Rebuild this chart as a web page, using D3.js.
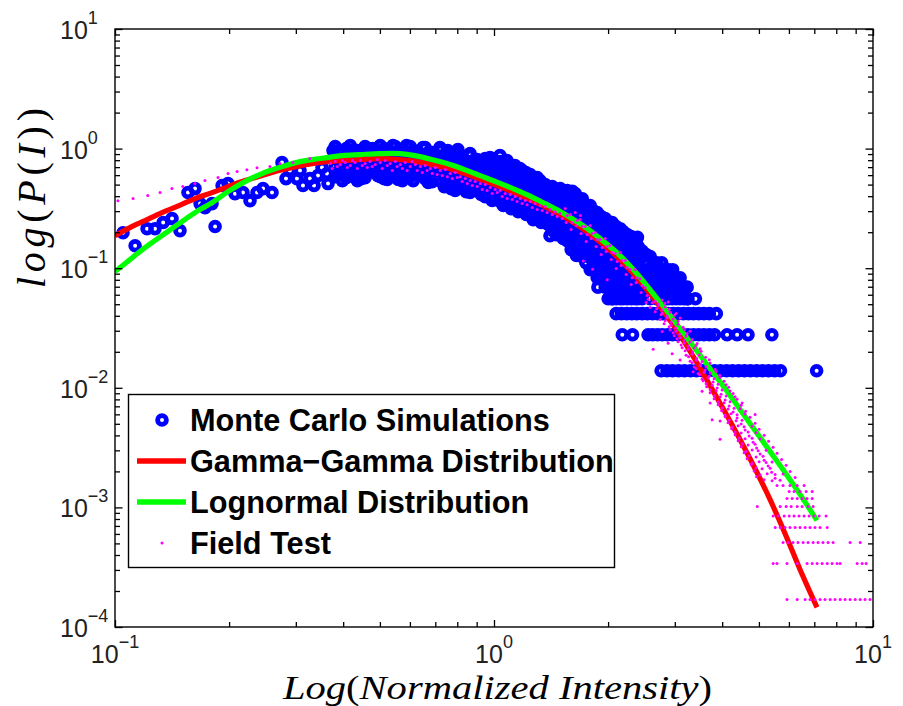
<!DOCTYPE html>
<html><head><meta charset="utf-8">
<script src="https://cdn.jsdelivr.net/npm/d3@7"></script>
<style>body{margin:0;background:#fff;}svg{display:block;}</style>
</head><body>
<svg id="chart" width="903" height="706"></svg>
<script>
// ---------- DATA ----------
const curveI = [0.1,0.1095,0.120,0.133,0.1475,0.1626,0.1803,0.1987,0.2203,0.2443,0.2709,0.3003,0.3310,0.3626,0.3971,0.4430,0.5004,0.5649,0.6189,0.6779,0.7516,0.8284,0.9186,1.018,1.122,1.245,1.363,1.494,1.636,1.792,1.963,2.150,2.355,2.579,2.826,3.096,3.391,3.715,4.069,4.458,4.883,5.348,5.859,6.418,7.115];
const gammaGammaP = [0.1873,0.2185,0.2500,0.2917,0.3338,0.3819,0.4286,0.4812,0.5401,0.5946,0.6548,0.7071,0.7492,0.7786,0.7937,0.8091,0.8249,0.8091,0.7862,0.7421,0.6871,0.6241,0.5561,0.4906,0.4330,0.3748,0.3275,0.2808,0.2362,0.1930,0.1532,0.1181,0.0868,0.0614,0.0418,0.0276,0.01725,0.01045,0.00628,0.003698,0.002115,0.001166,0.000606,0.000303,0.000146];
const lognormalP = [0.0937,0.1180,0.1487,0.1873,0.2359,0.2917,0.3535,0.4369,0.5298,0.6179,0.6937,0.7637,0.8091,0.8409,0.8739,0.8909,0.9082,0.9082,0.8739,0.8170,0.7493,0.6740,0.5948,0.5249,0.4631,0.4009,0.3470,0.2975,0.2502,0.2064,0.1638,0.1276,0.0938,0.0663,0.0460,0.0313,0.02131,0.01450,0.00987,0.00659,0.00440,0.00294,0.00196,0.001284,0.000778];

// Monte Carlo histogram points [normalized intensity, probability]
const monteCarlo = [
[0.105,0.198],[0.113,0.154],[0.1215,0.214],[0.1275,0.214],[0.134,0.241],[0.1414,0.260],[0.1484,0.206],[0.1558,0.429],[0.1626,0.463],[0.1677,0.347],[0.1728,0.321],[0.1803,0.347],[0.1837,0.223],[0.1917,0.491],[0.1987,0.510],[0.2073,0.420],[0.2176,0.429],[0.2271,0.367],[0.2370,0.429],[0.2458,0.463],[0.2596,0.429],[0.2758,0.764],[0.2894,0.655],[0.3020,0.561],[0.3133,0.491],[0.3269,0.561],[0.3432,0.595],[0.3625,0.618],[0.3760,0.962],[0.3924,0.794],[0.4094,0.694],[0.4246,0.962],[0.4511,0.630],[0.4795,1.0],[0.5066,0.794],[0.5415,1.06],[0.5753,0.908],[0.6076,0.721],[0.6497,1.02],[0.6903,0.618],[0.7202,1.02],[0.7334,0.655],
[0.2826,0.561],[0.3077,0.655],[0.3351,0.491],[0.3517,0.694],[0.3648,0.510],
[0.385,0.630],[0.404,0.595],[0.432,0.749],[0.459,0.841],[0.470,0.655],[0.494,0.595],[0.519,0.926],[0.530,0.681],[0.556,0.630],[0.588,1.06],[0.621,0.908],[0.637,0.630],[0.670,0.825],[0.706,0.825],[0.755,0.962],[0.774,0.764],[0.803,0.981],[0.822,0.681],
[0.789,0.510],[0.8385,0.472],[0.8644,0.908],[0.891,0.721],[0.891,0.491],[0.9354,0.463],[0.9354,0.749],[0.9759,0.841],[0.9759,0.595],[1.006,0.382],[1.037,0.874],[1.037,0.655],[1.050,0.764],[1.082,0.794],[1.082,0.540],[1.102,0.367],[1.136,0.721],[1.136,0.491],[1.171,0.347],[1.171,0.681],[1.214,0.630],[1.214,0.446],[1.260,0.561],[1.260,0.334],[1.322,0.265],[1.322,0.540],[1.363,0.491],[1.363,0.367],[1.405,0.187],[1.405,0.463],[1.431,0.206],[1.475,0.405],[1.475,0.275],
[0.381,1.039],[0.381,0.857],[0.381,0.707],[0.381,0.583],[0.398,0.944],[0.398,0.779],[0.398,0.642],[0.398,0.540],[0.4175,1.06],[0.4175,0.874],[0.4175,0.721],[0.4175,0.595],[0.436,0.962],[0.436,0.794],[0.436,0.655],[0.436,0.540],[0.457,1.039],[0.457,0.857],[0.457,0.707],[0.457,0.572],[0.477,0.944],[0.477,0.779],[0.477,0.642],[0.501,1.06],[0.501,0.874],[0.501,0.721],[0.501,0.583],[0.523,0.962],[0.523,0.794],[0.523,0.655],[0.523,0.551],[0.549,1.039],[0.549,0.857],[0.549,0.707],[0.549,0.595],[0.573,0.962],[0.573,0.794],[0.573,0.655],[0.573,0.540],[0.601,1.039],[0.601,0.857],[0.601,0.707],[0.601,0.583],[0.627,0.944],[0.627,0.779],[0.627,0.642],[0.658,1.019],[0.658,0.841],[0.658,0.694],[0.658,0.561],[0.687,0.926],[0.687,0.764],[0.687,0.630],[0.687,0.530],[0.721,0.962],[0.721,0.794],[0.721,0.655],[0.721,0.540],[0.753,0.908],[0.753,0.749],[0.753,0.618],[0.753,0.510],
[0.790,0.926],[0.790,0.764],[0.790,0.630],[0.790,0.520],[0.790,0.446],[0.824,0.857],[0.824,0.707],[0.824,0.583],[0.824,0.481],[0.865,0.874],[0.865,0.721],[0.865,0.595],[0.865,0.491],[0.865,0.429],[0.903,0.809],[0.903,0.668],[0.903,0.551],[0.903,0.454],[0.948,0.825],[0.948,0.681],[0.948,0.561],[0.948,0.463],[0.948,0.397],[0.989,0.764],[0.989,0.630],[0.989,0.520],[0.989,0.429],[0.989,0.368],[1.038,0.779],[1.038,0.642],[1.038,0.530],[1.038,0.437],[1.038,0.361],[1.083,0.721],[1.083,0.595],[1.083,0.491],[1.083,0.405],[1.083,0.340],[1.137,0.694],[1.137,0.572],[1.137,0.472],[1.137,0.389],[1.137,0.321],[1.187,0.655],[1.187,0.540],[1.187,0.446],[1.187,0.368],[1.187,0.303],[1.246,0.606],[1.246,0.500],[1.246,0.413],[1.246,0.340],[1.246,0.281],[1.300,0.572],[1.300,0.472],[1.300,0.389],[1.300,0.321],[1.300,0.265],
[1.365,0.500],[1.365,0.421],[1.365,0.354],[1.365,0.297],[1.365,0.250],[1.424,0.481],[1.424,0.405],[1.424,0.340],[1.424,0.286],[1.424,0.241],[1.495,0.463],[1.495,0.389],[1.495,0.328],[1.495,0.275],[1.495,0.232],[1.495,0.199],[1.560,0.446],[1.560,0.375],[1.560,0.315],[1.560,0.265],[1.560,0.223],[1.560,0.191],[1.560,0.170],[1.638,0.421],[1.638,0.354],[1.638,0.297],[1.638,0.250],[1.638,0.210],[1.638,0.177],[1.638,0.149],[1.709,0.368],[1.709,0.309],[1.709,0.260],[1.709,0.219],[1.709,0.184],[1.709,0.155],[1.709,0.125],[1.794,0.334],[1.794,0.281],[1.794,0.236],[1.794,0.199],[1.794,0.167],[1.794,0.139],[1.794,0.125],[1.794,0.0972],[1.872,0.292],[1.872,0.245],[1.872,0.206],[1.872,0.173],[1.872,0.146],[1.872,0.125],[1.872,0.0972],[1.872,0.0833],
[1.965,0.260],[1.965,0.219],[1.965,0.184],[1.965,0.155],[1.965,0.130],[1.965,0.111],[1.965,0.0972],[1.965,0.0694],[2.050,0.241],[2.050,0.202],[2.050,0.170],[2.050,0.143],[2.050,0.125],[2.050,0.0972],[2.050,0.0833],[2.050,0.0694],[2.050,0.0556],[2.152,0.214],[2.152,0.180],[2.152,0.152],[2.152,0.125],[2.152,0.111],[2.152,0.0833],[2.152,0.0694],[2.152,0.0556],[2.246,0.191],[2.246,0.161],[2.246,0.139],[2.246,0.111],[2.246,0.0972],[2.246,0.0833],[2.246,0.0694],[2.246,0.0556],[2.358,0.177],[2.358,0.149],[2.358,0.125],[2.358,0.111],[2.358,0.0833],[2.358,0.0694],[2.358,0.0556],[2.460,0.139],[2.460,0.125],[2.460,0.0972],[2.460,0.0833],[2.460,0.0694],[2.460,0.0556],[2.582,0.125],[2.582,0.0972],[2.582,0.0833],[2.582,0.0694],[2.582,0.0556],[2.69,0.111],[2.69,0.0833],[2.69,0.0694],[2.69,0.0556],[2.829,0.0972],[2.829,0.0833],[2.829,0.0694],[2.829,0.0556],[2.952,0.0833],[2.952,0.0694],[2.952,0.0556],[3.098,0.0833],[3.098,0.0694],[3.098,0.0556],[3.233,0.0694],[3.233,0.0556],
[0.3905,0.944],[0.3905,0.779],[0.3905,0.642],[0.4075,1.0],[0.4075,0.825],[0.4075,0.681],[0.4075,0.572],[0.4278,0.962],[0.4278,0.794],[0.4278,0.655],[0.4464,0.944],[0.4464,0.779],[0.4464,0.642],[0.4464,0.561],[0.4657,1.0],[0.4657,0.825],[0.4657,0.681],[0.489,0.962],[0.489,0.794],[0.489,0.655],[0.5133,1.0],[0.5133,0.825],[0.5133,0.681],[0.5133,0.561],[0.5355,0.908],[0.5355,0.749],[0.5355,0.618],[0.5589,0.962],[0.5589,0.794],[0.5589,0.655],[0.5589,0.551],[0.5867,0.908],[0.5867,0.749],[0.5867,0.618],[0.6121,0.962],[0.6121,0.794],[0.6121,0.655],[0.6121,0.540],[0.6426,0.874],[0.6426,0.721],[0.6426,0.595],[0.6705,0.926],[0.6705,0.764],[0.6705,0.630],[0.6705,0.520],[0.7040,0.874],[0.7040,0.721],[0.7040,0.595],[0.7390,0.857],[0.7390,0.707],[0.7390,0.583],[0.7390,0.481],[0.7711,0.825],[0.7711,0.681],[0.7711,0.561],[0.7711,0.463],
[0.8045,0.841],[0.8045,0.694],[0.8045,0.572],[0.8045,0.472],[0.8446,0.779],[0.8446,0.642],[0.8446,0.530],[0.8446,0.437],[0.8812,0.794],[0.8812,0.655],[0.8812,0.540],[0.8812,0.446],[0.9252,0.735],[0.9252,0.606],[0.9252,0.500],[0.9252,0.413],[0.9654,0.749],[0.9654,0.618],[0.9654,0.510],[0.9654,0.421],[1.0134,0.694],[1.0134,0.572],[1.0134,0.472],[1.0134,0.389],[1.0578,0.707],[1.0578,0.583],[1.0578,0.481],[1.0578,0.397],[1.0578,0.334],[1.1101,0.655],[1.1101,0.540],[1.1101,0.446],[1.1101,0.368],[1.1101,0.315],[1.1584,0.630],[1.1584,0.520],[1.1584,0.429],[1.1584,0.354],[1.1584,0.297],[1.2161,0.595],[1.2161,0.491],[1.2161,0.405],[1.2161,0.334],[1.2161,0.281],[1.2688,0.551],[1.2688,0.454],[1.2688,0.375],[1.2688,0.309],[1.2688,0.255],[1.3320,0.520],[1.3320,0.429],[1.3320,0.354],[1.3320,0.292],[1.3320,0.241],[1.3898,0.463],[1.3898,0.389],[1.3898,0.328],[1.3898,0.275],[1.3898,0.232],
[1.4590,0.446],[1.4590,0.375],[1.4590,0.315],[1.4590,0.265],[1.4590,0.223],[1.4590,0.191],[1.5224,0.421],[1.5224,0.354],[1.5224,0.297],[1.5224,0.250],[1.5224,0.210],[1.5224,0.177],[1.5982,0.397],[1.5982,0.334],[1.5982,0.281],[1.5982,0.236],[1.5982,0.199],[1.5982,0.167],[1.5982,0.143],[1.6677,0.368],[1.6677,0.309],[1.6677,0.260],[1.6677,0.219],[1.6677,0.184],[1.6677,0.155],[1.6677,0.132],[1.7506,0.334],[1.7506,0.281],[1.7506,0.236],[1.7506,0.199],[1.7506,0.167],[1.7506,0.140],[1.7506,0.111],[1.8264,0.303],[1.8264,0.255],[1.8264,0.214],[1.8264,0.180],[1.8264,0.152],[1.8264,0.125],[1.8264,0.111],[1.8264,0.0972],[1.9176,0.270],[1.9176,0.227],[1.9176,0.191],[1.9176,0.161],[1.9176,0.135],[1.9176,0.111],[1.9176,0.0972],[1.9176,0.0833],
[2.0008,0.245],[2.0008,0.206],[2.0008,0.173],[2.0008,0.146],[2.0008,0.125],[2.0008,0.0972],[2.0008,0.0833],[2.0008,0.0694],[2.0008,0.0556],[2.1005,0.223],[2.1005,0.187],[2.1005,0.158],[2.1005,0.132],[2.1005,0.111],[2.1005,0.0972],[2.1005,0.0833],[2.1005,0.0694],[2.1005,0.0556],[2.1919,0.202],[2.1919,0.170],[2.1919,0.143],[2.1919,0.125],[2.1919,0.0972],[2.1919,0.0833],[2.1919,0.0694],[2.1919,0.0556],[2.3008,0.184],[2.3008,0.155],[2.3008,0.130],[2.3008,0.111],[2.3008,0.0972],[2.3008,0.0833],[2.3008,0.0694],[2.3008,0.0556],[2.4006,0.152],[2.4006,0.125],[2.4006,0.0972],[2.4006,0.0833],[2.4006,0.0694],[2.4006,0.0556],[2.5204,0.130],[2.5204,0.111],[2.5204,0.0972],[2.5204,0.0833],[2.5204,0.0694],[2.6299,0.111],[2.6299,0.0972],[2.6299,0.0833],[2.6299,0.0694],[2.7607,0.0972],[2.7607,0.0833],[2.7607,0.0694],[2.7607,0.0556],[2.881,0.0972],[2.881,0.0694],[2.881,0.0556],[3.024,0.0833],[3.024,0.0694],[3.024,0.0556],[3.175,0.0694],[3.175,0.0556],
[1.52,0.41],[1.52,0.30],[1.57,0.36],[1.61,0.44],[1.61,0.32],[1.65,0.128],[1.68,0.16],[1.71,0.38],[1.72,0.14],[1.75,0.111],[1.78,0.125],[1.84,0.097],[1.88,0.0694],[1.92,0.111],[1.94,0.0972],[1.99,0.0833],[2.02,0.18],[2.05,0.0556],[2.39,0.181],[2.39,0.139],[2.47,0.125],[2.77,0.111],[2.96,0.0972],[3.15,0.0694],[3.25,0.0556],[3.40,0.0556],
[2.10,0.0417],[2.17,0.0417],[2.24,0.0417],[2.31,0.0417],[2.38,0.0417],[2.46,0.0417],[2.54,0.0417],[2.62,0.0417],[2.70,0.0417],[2.79,0.0417],[2.88,0.0417],[2.97,0.0417],[3.06,0.0417],[3.16,0.0417],[3.26,0.0417],[3.36,0.0417],[3.47,0.0417],[3.58,0.0417],[3.70,0.0417],[3.86,0.0417],
[2.18,0.0278],[2.32,0.0278],[2.55,0.0278],[2.62,0.0278],[2.70,0.0278],[2.78,0.0278],[2.87,0.0278],[2.96,0.0278],[3.05,0.0278],[3.15,0.0278],[3.25,0.0278],[3.36,0.0278],[3.47,0.0278],[3.58,0.0278],[3.70,0.0278],[3.82,0.0278],[4.12,0.0278],[4.38,0.0278],[4.68,0.0278],[5.41,0.0278],
[2.76,0.0139],[2.86,0.0139],[2.96,0.0139],[3.07,0.0139],[3.18,0.0139],[3.30,0.0139],[3.42,0.0139],[3.55,0.0139],[3.68,0.0139],[3.82,0.0139],[3.96,0.0139],[4.11,0.0139],[4.26,0.0139],[4.42,0.0139],[4.58,0.0139],[4.75,0.0139],[4.93,0.0139],[5.11,0.0139],[5.30,0.0139],[5.50,0.0139],[5.70,0.0139],[7.10,0.0139]
];

// Field test points [normalized intensity, probability]
const fieldTest = [
[0.1018,0.367],[0.1116,0.382],[0.122,0.405],[0.1315,0.429],[0.1413,0.463],[0.151,0.481],[0.1625,0.51],[0.1727,0.54],[0.187,0.572],[0.1987,0.618],[0.21,0.642],[0.2228,0.667],[0.237,0.693],[0.2563,0.707],[0.2725,0.749],[0.2948,0.764],[0.3267,0.825],
[0.370,0.749],[0.374,0.681],[0.381,0.779],[0.386,0.707],[0.393,0.735],[0.398,0.794],[0.405,0.764],[0.410,0.694],[0.4175,0.721],[0.423,0.794],[0.430,0.764],[0.436,0.681],[0.444,0.794],[0.449,0.721],[0.457,0.749],[0.463,0.694],[0.471,0.779],[0.477,0.707],[0.486,0.735],[0.492,0.809],[0.501,0.764],[0.507,0.681],[0.516,0.794],[0.523,0.721],[0.532,0.749],[0.539,0.655],[0.549,0.779],[0.555,0.707],[0.566,0.735],[0.573,0.681],[0.583,0.764],[0.590,0.655],[0.601,0.707],[0.608,0.779],[0.620,0.735],[0.627,0.655],[0.639,0.707],[0.647,0.630],[0.658,0.721],[0.666,0.655],[0.679,0.681],[0.687,0.618],[0.700,0.694],[0.708,0.606],[0.721,0.655],[0.730,0.595],[0.744,0.668],[0.753,0.583],[0.766,0.618],[0.776,0.561],[0.790,0.630],[0.800,0.572],[0.814,0.583],[0.824,0.530],[0.840,0.561],[0.850,0.510],[0.865,0.540],[0.876,0.491],[0.892,0.530],[0.903,0.481],[0.920,0.510],[0.931,0.454],[0.948,0.500],[0.959,0.446],[0.977,0.472],[0.989,0.421],[1.007,0.454],[1.020,0.429],[1.038,0.446],[1.051,0.397],[1.070,0.421],[1.083,0.382],[1.103,0.413],[1.117,0.375],[1.137,0.397],[1.151,0.361],[1.173,0.382],[1.187,0.347],[1.209,0.368],[1.223,0.340],[1.246,0.361],[1.261,0.321],[1.284,0.347],[1.300,0.309],[1.324,0.334],[1.340,0.303],[1.365,0.328],[1.381,0.292],[1.407,0.309],[1.424,0.281],[1.450,0.297],[1.468,0.270],[1.495,0.286],[1.513,0.260],
[1.541,0.3151],[1.560,0.2753],[1.550,0.2405],[1.589,0.2807],[1.608,0.2405],[1.598,0.2103],[1.638,0.2917],[1.658,0.2500],[1.648,0.2271],[1.688,0.2549],[1.709,0.2228],[1.698,0.1947],[1.740,0.2228],[1.761,0.1910],[1.751,0.1669],[1.794,0.2271],[1.816,0.1947],[1.805,0.1768],[1.849,0.1985],[1.872,0.1734],[1.860,0.1516],[1.906,0.1734],[1.929,0.1487],[1.918,0.1299],[1.965,0.1768],[1.989,0.1516],[1.977,0.1376],[2.025,0.1545],[2.050,0.1350],[2.038,0.1180],[2.088,0.1324],[2.113,0.1136],[2.101,0.0993],[2.152,0.1350],[2.178,0.1158],[2.165,0.1052],[2.219,0.1158],[2.246,0.1012],[2.232,0.0884],[2.287,0.0974],[2.315,0.0834],[2.301,0.0730],[2.358,0.0974],[2.386,0.0834],[2.372,0.0758],[2.430,0.0818],[2.460,0.0716],[2.445,0.0625],[2.505,0.0689],[2.536,0.0590],[2.520,0.0516],
[1.72,0.115],[1.82,0.098],[1.99,0.080],[1.69,0.2753],
[2.551,0.0549],[2.662,0.0530],[2.777,0.0541],[2.881,0.0522],[2.582,0.0470],[2.711,0.0486],[2.829,0.0474],[2.662,0.0433],[2.777,0.0420],[2.916,0.0429],[3.024,0.0418],[2.744,0.0372],[2.863,0.0385],[2.970,0.0376],[3.098,0.0383],[2.811,0.0343],[2.934,0.0333],[3.061,0.0340],[2.777,0.0296],[2.916,0.0305],[3.024,0.0299],[3.175,0.0306],[3.292,0.0297],[2.988,0.0272],[3.098,0.0264],[3.213,0.0270],[2.881,0.0236],[3.061,0.0243],[3.175,0.0237],[3.292,0.0241],[3.435,0.0235],[2.630,0.0210],[3.136,0.0216],[3.253,0.0211],[3.373,0.0215],[3.499,0.0212],[2.952,0.0193],[3.213,0.0187],[3.332,0.0191],[3.477,0.0188],[3.098,0.0171],[3.292,0.0167],[3.415,0.0170],[3.541,0.0166],[3.695,0.0172],[3.373,0.0149],[3.499,0.0153],[3.628,0.0150],[3.353,0.0136],[3.456,0.0132],[3.585,0.0135],[3.718,0.0133],[3.856,0.0137],[3.541,0.0118],[3.673,0.0121],[3.809,0.0119],[3.950,0.0122],[3.628,0.0108],[3.763,0.0105],[3.903,0.0107],[4.097,0.0106],[3.541,0.00935],[3.718,0.00962],[3.856,0.00945],[3.999,0.00958],[4.198,0.00940],[3.809,0.00858],[3.950,0.00838],[4.097,0.00852],[4.327,0.00840],[3.718,0.00745],[3.903,0.00762],[4.047,0.00750],[4.198,0.00765],[4.515,0.00748],[3.999,0.00680],[4.147,0.00665],[4.301,0.00676],[4.461,0.00668],[4.072,0.00592],[4.223,0.00606],[4.380,0.00595],[4.598,0.00603],[4.886,0.00597],[3.763,0.00540],[3.950,0.00528],[4.172,0.00537],[4.353,0.00530],[4.515,0.00536],[4.249,0.00470],[4.407,0.00481],[4.570,0.00473],[4.798,0.00478],[4.327,0.00428],[4.488,0.00418],[4.683,0.00426],[4.916,0.00420],[3.950,0.00372],[4.433,0.00381],[4.598,0.00375],[4.798,0.00379],[5.037,0.00374],[4.515,0.00340],[4.683,0.00332],[4.886,0.00338],[4.626,0.00295],[4.798,0.00302],[4.976,0.00297],[5.224,0.00301],[4.711,0.00270],[4.916,0.00264],[5.129,0.00268],[4.798,0.00235],[5.006,0.00241],[5.224,0.00237],[5.417,0.00240],[4.916,0.00214],[5.098,0.00210],[5.352,0.00213],[5.037,0.00187],[5.256,0.00191],[5.517,0.00188],[5.791,0.00190],[5.161,0.00170],[5.417,0.00167],[5.687,0.00169],
[2.614,0.0514],[2.711,0.0502],[2.820,0.0510],[2.686,0.0458],[2.777,0.0447],[2.898,0.0453],[2.761,0.0408],[2.863,0.0398],[2.988,0.0404],[2.829,0.0363],[2.934,0.0354],[3.061,0.0360],[2.898,0.0324],[3.015,0.0316],[3.155,0.0321],[2.970,0.0288],[3.089,0.0281],[3.233,0.0285],[3.042,0.0257],[3.175,0.0250],[3.332,0.0254],[3.117,0.0228],[3.253,0.0223],[3.415,0.0226],[3.194,0.0204],[3.343,0.0199],[3.520,0.0202],[3.262,0.0182],[3.425,0.0177],[3.617,0.0180],[3.332,0.0162],[3.509,0.0158],[3.718,0.0161],[3.415,0.0144],[3.606,0.0141],[3.832,0.0143],[3.488,0.01284],[3.695,0.01252],[3.938,0.01271],[3.563,0.01144],[3.786,0.01116],[4.048,0.01133],[3.639,0.01019],[3.879,0.00994],[4.160,0.01009],[3.718,0.00907],[3.974,0.00885],[4.275,0.00898],[3.809,0.00809],[4.072,0.00789],[4.380,0.00801],[3.903,0.00721],[4.172,0.00703],[4.488,0.00714],[3.987,0.00642],[4.275,0.00627],[4.612,0.00636],[4.072,0.00572],[4.380,0.00558],[4.740,0.00567],[4.147,0.00510],[4.488,0.00497],[4.886,0.00505],[4.236,0.00455],[4.598,0.00444],[5.006,0.00450],[4.327,0.00405],[4.711,0.00395],[5.161,0.00401],[4.407,0.00360],[4.827,0.00351],[5.303,0.00357],[4.488,0.00322],[4.931,0.00314],[5.451,0.00319],[4.570,0.00286],[5.037,0.00279],[5.584,0.00283],[4.654,0.00255],[5.161,0.00248],[5.739,0.00252],[4.769,0.00227],[5.288,0.00222],[5.898,0.00225],[4.856,0.00202],[5.401,0.00197],[6.043,0.00200],[4.931,0.00180],[5.517,0.00175],[6.230,0.00178],
[5.58,0.001526],[5.79,0.001526],[6.04,0.001526],[6.31,0.001526],[6.58,0.001526],
[6.01,0.001356],[6.19,0.001356],[6.42,0.001356],[6.66,0.001356],[6.91,0.001356],
[5.93,0.001187],[6.12,0.001187],[6.31,0.001187],[6.50,0.001187],[6.70,0.001187],[6.91,0.001187],
[4.95,0.001017],[5.69,0.001017],[5.90,0.001017],[6.08,0.001017],[6.31,0.001017],[6.50,0.001017],[6.74,0.001017],[6.95,0.001017],
[5.45,0.0008475],[5.62,0.0008475],[5.83,0.0008475],[6.01,0.0008475],[6.19,0.0008475],[6.38,0.0008475],[6.58,0.0008475],[6.78,0.0008475],[6.99,0.0008475],[7.21,0.0008475],[7.52,0.0008475],
[5.52,0.000678],[5.69,0.000678],[5.86,0.000678],[6.04,0.000678],[6.23,0.000678],[6.42,0.000678],[6.62,0.000678],[6.82,0.000678],[7.03,0.000678],[7.25,0.000678],[7.57,0.000678],
[5.79,0.0005085],[5.97,0.0005085],[6.15,0.0005085],[6.34,0.0005085],[6.54,0.0005085],[6.74,0.0005085],[6.95,0.0005085],[7.16,0.0005085],[7.38,0.0005085],[7.61,0.0005085],[7.85,0.0005085],[8.70,0.0005085],[9.25,0.0005085],
[5.45,0.000339],[5.58,0.000339],[5.93,0.000339],[6.31,0.000339],[6.70,0.000339],[6.91,0.000339],[7.12,0.000339],[7.34,0.000339],[7.57,0.000339],[7.80,0.000339],[8.04,0.000339],[8.19,0.000339],[9.08,0.000339],[9.36,0.000339],[9.59,0.000339],
[5.93,0.0001695],[6.31,0.0001695],[6.62,0.0001695],[6.82,0.0001695],[7.03,0.0001695],[7.25,0.0001695],[7.47,0.0001695],[7.71,0.0001695],[7.94,0.0001695],[8.19,0.0001695],[8.44,0.0001695],[8.70,0.0001695],[8.97,0.0001695],[9.25,0.0001695],[9.53,0.0001695],[9.82,0.0001695]
];

const xTickExponents = [-1, 0, 1];
const yTickExponents = [-4, -3, -2, -1, 0, 1];
const legendLabels = ["Monte Carlo Simulations", "Gamma\u2212Gamma Distribution", "Lognormal Distribution", "Field Test"];
const xAxisLabel = ["Log", "(", "Normalized Intensity", ")"];
const yAxisLabel = ["log", "(", "P", "(", "I", "))"];

// ---------- CHART ----------
const svg = d3.select("#chart");
const L = 115, R = 873, T = 29, B = 627;
const x = d3.scaleLog().domain([0.1, 10]).range([L, R]);
const y = d3.scaleLog().domain([1e-4, 10]).range([B, T]);

svg.append("rect").attr("width", 903).attr("height", 706).attr("fill", "#fff");
svg.append("defs").append("clipPath").attr("id", "clip")
  .append("rect").attr("x", L).attr("y", T).attr("width", R - L).attr("height", B - T);
const plot = svg.append("g").attr("clip-path", "url(#clip)");

plot.append("g").selectAll("circle").data(monteCarlo).join("circle")
  .attr("cx", d => x(d[0])).attr("cy", d => y(d[1])).attr("r", 4.4)
  .attr("fill", "none").attr("stroke", "#0000ff").attr("stroke-width", 4.8);

const mkLine = vals => d3.line()
  .x((d, i) => x(curveI[i])).y(d => y(d))
  .curve(d3.curveCatmullRom.alpha(0.5))(vals);
plot.append("path").attr("d", mkLine(gammaGammaP)).attr("fill", "none")
  .attr("stroke", "#ff0000").attr("stroke-width", 5.2).attr("stroke-linejoin", "round");
plot.append("path").attr("d", mkLine(lognormalP)).attr("fill", "none")
  .attr("stroke", "#00ff00").attr("stroke-width", 5.2).attr("stroke-linejoin", "round");

plot.append("g").selectAll("circle").data(fieldTest).join("circle")
  .attr("cx", d => x(d[0])).attr("cy", d => y(d[1])).attr("r", 1.5)
  .attr("fill", "#ff00ff");

// ---------- AXES / TICKS ----------
const isMajor = v => Math.abs(Math.log10(v) - Math.round(Math.log10(v))) < 1e-9;
const xAll = x.ticks(), yAll = y.ticks();
const xMinor = xAll.filter(v => !isMajor(v)), xMajor = xAll.filter(isMajor);
const yMinor = yAll.filter(v => !isMajor(v)), yMajor = yAll.filter(isMajor);
function ticks(gen, tr, vals, size) {
  const g = svg.append("g").attr("transform", tr)
    .call(gen.tickValues(vals).tickSizeInner(size).tickSizeOuter(0).tickFormat(""));
  g.select(".domain").remove();
  g.selectAll("text").remove();
  g.selectAll("line").attr("stroke", "#000").attr("stroke-width", 1.3);
}
ticks(d3.axisBottom(x), `translate(0,${B})`, xMinor, -5);
ticks(d3.axisBottom(x), `translate(0,${B})`, xMajor, -7);
ticks(d3.axisTop(x), `translate(0,${T})`, xMinor, -5);
ticks(d3.axisTop(x), `translate(0,${T})`, xMajor, -7);
ticks(d3.axisLeft(y), `translate(${L},0)`, yMinor, -5);
ticks(d3.axisLeft(y), `translate(${L},0)`, yMajor, -7.5);
ticks(d3.axisRight(y), `translate(${R},0)`, yMinor, -5);
ticks(d3.axisRight(y), `translate(${R},0)`, yMajor, -7.5);
svg.append("rect").attr("x", L).attr("y", T).attr("width", R - L).attr("height", B - T)
  .attr("fill", "none").attr("stroke", "#000").attr("stroke-width", 1.4);

const fmtExp = e => (e < 0 ? "\u2212" + Math.abs(e) : String(e));
const tickFont = "'Liberation Sans', Arial, sans-serif";
xTickExponents.forEach(e => {
  const t = svg.append("text").attr("x", x(Math.pow(10, e))).attr("y", 663)
    .attr("text-anchor", "middle").attr("font-family", tickFont).attr("font-size", 25).attr("fill", "#222");
  t.append("tspan").text("10");
  t.append("tspan").attr("dy", -15).attr("font-size", 18).text(fmtExp(e));
});
yTickExponents.forEach(e => {
  const t = svg.append("text").attr("x", 60).attr("y", y(Math.pow(10, e)) + 10)
    .attr("text-anchor", "start").attr("font-family", tickFont).attr("font-size", 25).attr("fill", "#222");
  t.append("tspan").text("10");
  t.append("tspan").attr("dy", -15).attr("font-size", 18).text(fmtExp(e));
});

const mathFont = "'Liberation Serif', 'Times New Roman', serif";
const xl = svg.append("text").attr("x", 497.5).attr("y", 698.5).attr("text-anchor", "middle")
  .attr("font-family", mathFont).attr("font-size", 33.5).attr("fill", "#000")
  .attr("textLength", 429).attr("lengthAdjust", "spacingAndGlyphs");
xAxisLabel.forEach(s => xl.append("tspan").attr("font-style", /[()]/.test(s) ? "normal" : "italic").text(s));
const yl = svg.append("text").attr("transform", "translate(45,198) rotate(-90)").attr("text-anchor", "middle")
  .attr("font-family", mathFont).attr("font-size", 40).attr("fill", "#000")
  .attr("textLength", 180).attr("lengthAdjust", "spacing");
yAxisLabel.forEach(s => yl.append("tspan").attr("font-style", /[()]/.test(s) ? "normal" : "italic").text(s));

// ---------- LEGEND ----------
const lg = svg.append("g");
lg.append("rect").attr("x", 128.5).attr("y", 394.5).attr("width", 486).attr("height", 173)
  .attr("fill", "#fff").attr("stroke", "#000").attr("stroke-width", 1.4);
const rowY = [420, 461, 502, 543];
lg.append("circle").attr("cx", 162).attr("cy", rowY[0]).attr("r", 4.4)
  .attr("fill", "none").attr("stroke", "#0000ff").attr("stroke-width", 4.8);
lg.append("line").attr("x1", 137).attr("x2", 186).attr("y1", rowY[1]).attr("y2", rowY[1])
  .attr("stroke", "#ff0000").attr("stroke-width", 5.5);
lg.append("line").attr("x1", 137).attr("x2", 186).attr("y1", rowY[2]).attr("y2", rowY[2])
  .attr("stroke", "#00ff00").attr("stroke-width", 5.5);
lg.append("circle").attr("cx", 162).attr("cy", rowY[3]).attr("r", 1.5).attr("fill", "#ff00ff");
legendLabels.forEach((s, i) => {
  lg.append("text").attr("x", 190).attr("y", rowY[i] + 11)
    .attr("font-family", tickFont).attr("font-weight", "bold").attr("font-size", 30.7)
    .attr("fill", "#000").text(s);
});
</script>
</body></html>
